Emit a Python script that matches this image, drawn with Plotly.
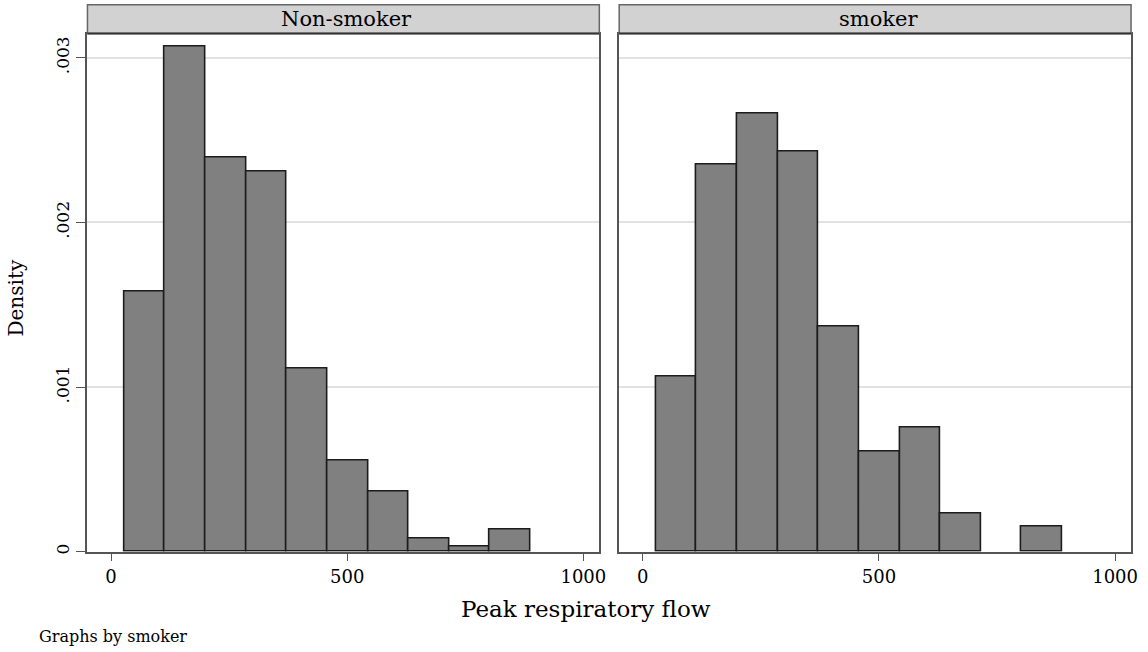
import plotly.graph_objects as go

# Histogram bins of peak respiratory flow (shared by both groups)
bin_edges = [28, 114, 200, 286, 372, 458, 544, 630, 716, 802, 888]

# Density per bin
density_nonsmoker = [0.001578, 0.003067, 0.002396, 0.002310, 0.001114,
                     0.000554, 0.000365, 0.0000786, 0.0000339, 0.000135]
density_smoker = [0.001062, 0.002354, 0.002660, 0.002432, 0.001366,
                  0.000606, 0.000756, 0.000232, 0.0, 0.000155]

panel_titles = ["Non-smoker", "smoker"]
x_ticks = [0, 500, 1000]
y_ticks = [0, 0.001, 0.002, 0.003]
y_tick_text = ["0", ".001", ".002", ".003"]

W, H = 1148, 652
FONT = "DejaVu Serif"


def fx(p):
    return p / W


def fy(p):
    return 1 - p / H


centers = [(a + b) / 2 for a, b in zip(bin_edges[:-1], bin_edges[1:])]
widths = [b - a for a, b in zip(bin_edges[:-1], bin_edges[1:])]

fig = go.Figure()
for i, dens in enumerate([density_nonsmoker, density_smoker]):
    sfx = "" if i == 0 else "2"
    # empty bins get no outline
    outline = [1.6 if d > 0 else 0 for d in dens]
    fig.add_trace(go.Bar(
        x=centers, y=dens, width=widths,
        marker=dict(color="#808080", line=dict(color="#1c1c1c", width=outline)),
        xaxis="x" + sfx, yaxis="y" + sfx, showlegend=False,
    ))

panels = [(88, 603), (623, 1138)]
plot_top, plot_bottom = 33.7, 554.3
x_range = [-49.9, 1033.8]
y_range = [0, 0.0031475]

axis_common = dict(showline=True, linecolor="#555555", linewidth=1.5, mirror=True,
                   zeroline=False)

fig.update_layout(
    width=W, height=H,
    margin=dict(l=0, r=0, t=0, b=0),
    paper_bgcolor="white", plot_bgcolor="white",
    bargap=0,
    xaxis=dict(domain=[fx(panels[0][0]), fx(panels[0][1])], range=x_range,
               tickvals=x_ticks, ticks="outside", ticklen=8, tickcolor="#555555",
               tickfont=dict(family=FONT, size=18, color="black"),
               showgrid=False, anchor="y", **axis_common),
    xaxis2=dict(domain=[fx(panels[1][0]), fx(panels[1][1])], range=x_range,
                tickvals=x_ticks, ticks="outside", ticklen=8, tickcolor="#555555",
                tickfont=dict(family=FONT, size=18, color="black"),
                showgrid=False, anchor="y2", **axis_common),
    yaxis=dict(domain=[fy(plot_bottom), fy(plot_top)], range=y_range,
               tickvals=y_ticks, ticktext=y_tick_text, tickangle=-90,
               ticks="outside", ticklen=10, tickcolor="#555555",
               tickfont=dict(family=FONT, size=17, color="black"),
               showgrid=True, gridcolor="#e2e2e2", gridwidth=1.5,
               anchor="x", **axis_common),
    yaxis2=dict(domain=[fy(plot_bottom), fy(plot_top)], range=y_range,
                tickvals=y_ticks, showticklabels=False, ticks="",
                showgrid=True, gridcolor="#e2e2e2", gridwidth=1.5,
                anchor="x2", **axis_common),
)

# Panel header strips
shapes = []
annotations = []
for (left, right), title in zip(panels, panel_titles):
    shapes.append(dict(type="rect", xref="paper", yref="paper",
                       x0=fx(left), x1=fx(right), y0=fy(plot_top), y1=fy(4.7),
                       fillcolor="#d2d2d2", line=dict(color="#666666", width=1.5),
                       layer="above"))
    shapes.append(dict(type="line", xref="paper", yref="paper",
                       x0=fx(left), x1=fx(right), y0=fy(plot_top), y1=fy(plot_top),
                       line=dict(color="#333333", width=2)))
    annotations.append(dict(text=title, xref="paper", yref="paper",
                            x=fx((left + right) / 2 + 3), y=fy(19.5),
                            xanchor="center", yanchor="middle", showarrow=False,
                            font=dict(family=FONT, size=21, color="black")))

annotations += [
    dict(text="Density", xref="paper", yref="paper", x=fx(16), y=fy(299),
         textangle=-90, xanchor="center", yanchor="middle", showarrow=False,
         font=dict(family=FONT, size=20, color="black")),
    dict(text="Peak respiratory flow", xref="paper", yref="paper", x=fx(590), y=fy(612),
         xanchor="center", yanchor="middle", showarrow=False,
         font=dict(family=FONT, size=23, color="black")),
    dict(text="Graphs by smoker", xref="paper", yref="paper", x=fx(37), y=fy(639),
         xanchor="left", yanchor="middle", showarrow=False,
         font=dict(family=FONT, size=16, color="black")),
]

fig.update_layout(shapes=shapes, annotations=annotations)

fig.write_html("out.html")
